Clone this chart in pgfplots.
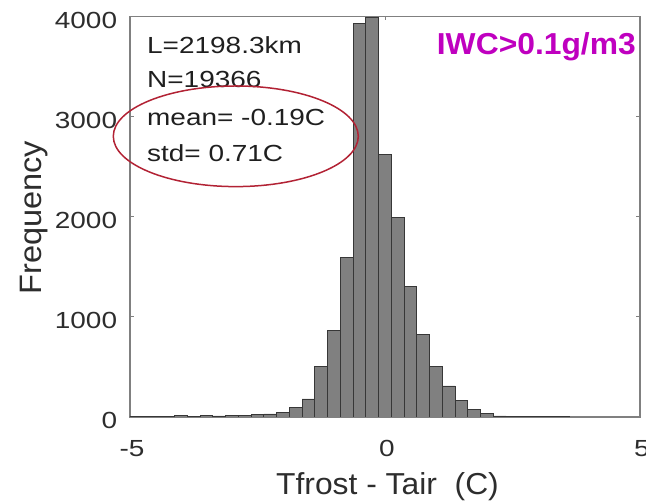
\documentclass[border=0pt]{standalone}
\usepackage{fontspec}
\setmainfont{Liberation Sans}
\newfontfamily\tickfont[FakeStretch=1.2]{Liberation Sans}
\newfontfamily\labfont[FakeStretch=1.05]{Liberation Sans}
\usepackage{pgfplots}
\usepackage{pgfplotstable}
\pgfplotsset{compat=1.18}
\definecolor{framegray}{RGB}{128,128,128}
\definecolor{barfill}{RGB}{128,128,128}
\definecolor{baredge}{RGB}{55,55,55}
\definecolor{txt}{RGB}{45,45,45}
\definecolor{ovalred}{RGB}{178,34,52}
\definecolor{iwcmag}{RGB}{191,0,191}

\pgfplotstableread{
x y
-5.00 2
-4.75 4
-4.50 6
-4.25 8
-4.00 18
-3.75 8
-3.50 18
-3.25 10
-3.00 15
-2.75 18
-2.50 25
-2.25 30
-2.00 42
-1.75 92
-1.50 180
-1.25 502
-1.00 868
-0.75 1595
-0.50 3930
-0.25 3987
0.00 2625
0.25 1995
0.50 1300
0.75 825
1.00 502
1.25 310
1.50 162
1.75 75
2.00 35
2.25 10
2.50 5
2.75 4
3.00 3
3.25 2
3.50 1
}\histdata

\begin{document}
\begin{tikzpicture}
\begin{axis}[
  scale only axis, width=510bp, height=400.5bp,
  xmin=-5, xmax=5, ymin=0, ymax=4000,
  xtick={-5,0,5}, xticklabels={-5,0,5},
  ytick={0,1000,2000,3000,4000},
  yticklabels={0,1000,2000,3000,4000},
  axis line style={framegray, line width=1.5bp},
  major tick style={framegray, line width=1bp},
  major tick length=4bp,
  tick align=inside,
  xticklabel style={font=\tickfont\fontsize{23.3bp}{28bp}\selectfont, text=txt, anchor=north, inner sep=0pt, yshift=-23bp, xshift=2bp},
  yticklabel style={font=\tickfont\fontsize{23.3bp}{28bp}\selectfont, text=txt, anchor=east, inner sep=0pt, xshift=-12.7bp, yshift=-3.5bp},
  xlabel={Tfrost - Tair\ \ (C)},
  ylabel={Frequency},
  xlabel style={font=\labfont\fontsize{30.3bp}{36bp}\selectfont, text=txt, at={(axis description cs:0.5,0)}, anchor=base, yshift=-78bp, xshift=2.5bp},
  ylabel style={font=\labfont\fontsize{31bp}{36bp}\selectfont, text=txt, at={([xshift=-88.3bp,yshift=-1bp]axis description cs:0,0.5)}, anchor=base},
]
\addplot[ybar, bar width=0.25, fill=barfill, draw=baredge, line width=0.8bp] table[x=x,y=y]{\histdata};
\end{axis}
\begin{scope}[every node/.style={inner sep=0pt, text=black!88, font=\tickfont\fontsize{23.3bp}{28bp}\selectfont}]
\node[anchor=base west] at ([xshift=17bp,yshift=-36.8bp]current axis.north west) {L=2198.3km};
\node[anchor=base west] at ([xshift=17bp,yshift=-70.8bp]current axis.north west) {N=19366};
\node[anchor=base west] at ([xshift=17bp,yshift=-109.5bp]current axis.north west) {mean= -0.19C};
\node[anchor=base west] at ([xshift=17bp,yshift=-145.2bp]current axis.north west) {std= 0.71C};
\end{scope}
\node[anchor=base east, inner sep=0pt, text=iwcmag, font=\labfont\bfseries\fontsize{30.3bp}{36bp}\selectfont] at ([xshift=-4bp,yshift=-38.5bp]current axis.north east) {IWC>0.1g/m3};
\draw[ovalred, line width=1.5bp] ([xshift=105.8bp,yshift=-119.8bp]current axis.north west) ellipse [x radius=122.5bp, y radius=50.3bp];
\pgfresetboundingbox
\path[use as bounding box] ([xshift=-130bp,yshift=-86bp]current axis.south west) rectangle ([xshift=6bp,yshift=16.5bp]current axis.north east);
\end{tikzpicture}
\end{document}
